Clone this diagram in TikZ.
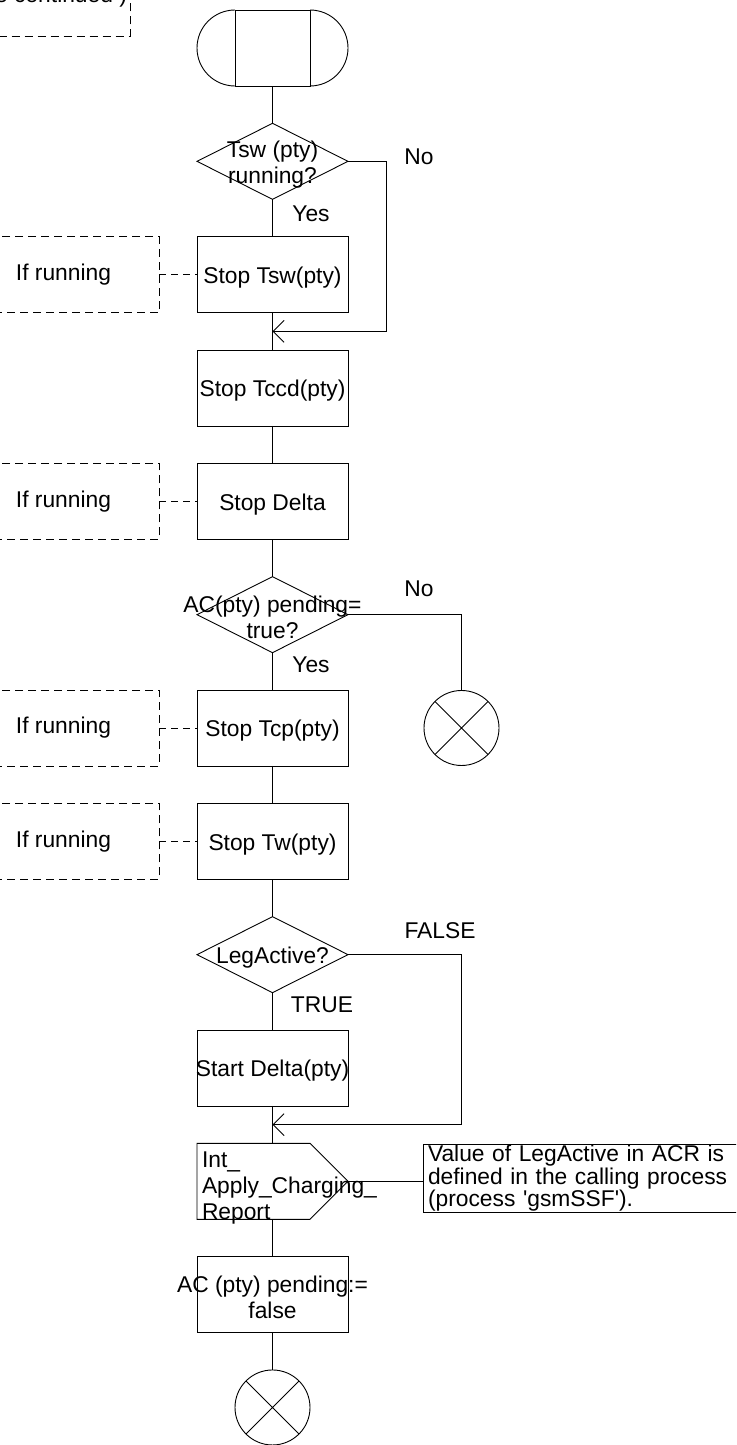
\documentclass[tikz,border=0pt]{standalone}
\usepackage{fontspec}
\setmainfont{Liberation Sans}[Ligatures=TeXOff]
\usepackage{tikz}
\usetikzlibrary{shapes.geometric, arrows.meta, positioning, calc}
\tikzstyle{startbox} = [rectangle, draw=black, minimum width=75pt, minimum height=76pt, inner sep=0pt]
\tikzstyle{task} = [rectangle, draw=black, minimum width=151pt, minimum height=76pt, inner sep=0pt, align=center]
\tikzstyle{decision} = [diamond, draw=black, minimum width=151pt, minimum height=76pt, inner sep=0pt, align=center]
\tikzstyle{ifnote} = [rectangle, draw=black, dash pattern=on 8pt off 5pt, minimum width=191pt, minimum height=76pt, inner sep=0pt]
\tikzstyle{contbox} = [rectangle, draw=black, dash pattern=on 8pt off 5pt, inner xsep=3pt, inner ysep=0pt, text depth=33pt]
\tikzstyle{sigout} = [rectangle, minimum width=151pt, minimum height=76pt, inner xsep=5pt, inner ysep=0pt, text width=141pt, align=left]
\tikzstyle{commentbox} = [rectangle, draw=black, text width=310pt, align=left, inner xsep=5pt, inner ysep=1pt, font=\fontsize{22.8pt}{20pt}\selectfont]
\tikzstyle{stopsym} = [circle, draw=black, minimum size=75pt, inner sep=0pt, path picture={\draw (path picture bounding box.north west) -- (path picture bounding box.south east) (path picture bounding box.north east) -- (path picture bounding box.south west);}]
\tikzstyle{lbl} = [inner sep=0pt]
\tikzstyle{arrow} = [-{Straight Barb[length=11pt, width=22pt]}]
\tikzstyle{dashline} = [dash pattern=on 7pt off 5pt]
\newcommand{\spill}[1]{\raisebox{-3pt}[\height][\depth]{\makebox[0pt]{#1}}}
\newcommand{\sigline}[1]{\raisebox{-7pt}[\height][\depth]{#1}}
\lineskiplimit=-30pt

\begin{document}
\begin{tikzpicture}[node distance=37.33pt, outer sep=0pt, font=\fontsize{22.8pt}{26pt}\selectfont, line width=0.9pt]
    \useasboundingbox (0,0) rectangle (736pt,-1445pt);
    \clip (0,0) rectangle (736pt,-1445pt);

    % note cut off at the top
    \node (contnote) [contbox, anchor=south east] at (130pt,-36pt) {(to be continued )};

    % Main column
    \node (start) [startbox] at (272.5pt,-48pt) {};
    \node (tswrun) [decision, below=of start] {\spill{Tsw (pty)}\\\spill{running?}};
    \node (stoptsw) [task, below=of tswrun] {\spill{Stop Tsw(pty)}};
    \node (stoptccd) [task, below=of stoptsw] {\spill{Stop Tccd(pty)}};
    \node (stopdelta) [task, below=of stoptccd] {\spill{Stop Delta}};
    \node (acpend) [decision, below=of stopdelta] {\spill{AC(pty) pending=}\\\spill{true?}};
    \node (stoptcp) [task, below=of acpend] {\spill{Stop Tcp(pty)}};
    \node (stoptw) [task, below=of stoptcp] {\spill{Stop Tw(pty)}};
    \node (legact) [decision, below=of stoptw] {\spill{LegActive?}};
    \node (startdelta) [task, below=of legact] {\spill{Start Delta(pty)}};
    \node (acrout) [sigout, below=of startdelta] {\sigline{Int\_}\\\sigline{Apply\_Charging\_}\\\sigline{Report}};
    \node (acfalse) [task, below=of acrout] {\spill{AC (pty) pending:=}\\\spill{false}};
    \node (end2) [stopsym, below=of acfalse] {};

    % Side nodes
    \node (ifrun1) [ifnote, left=38pt of stoptsw] {If running};
    \node (ifrun2) [ifnote, left=38pt of stopdelta] {If running};
    \node (ifrun3) [ifnote, left=38pt of stoptcp] {If running};
    \node (ifrun4) [ifnote, left=38pt of stoptw] {If running};
    \node (end1) [stopsym, right=76pt of stoptcp] {};
    \node (acrnote) [commentbox, anchor=north west] at ($(acrout.north east)+(75pt,-1pt)$) {Value of LegActive in ACR is\\defined in the calling process\\(process 'gsmSSF').};

    % Branch labels
    \node (yes1) [lbl] at ($(tswrun.south)+(38.5pt,-14pt)$) {Yes};
    \node (no1) [lbl] at ($(tswrun.east)+(71pt,5pt)$) {No};
    \node (no2) [lbl] at ($(acpend.east)+(71pt,26pt)$) {No};
    \node (yes2) [lbl] at ($(acpend.south)+(38.5pt,-12.5pt)$) {Yes};
    \node (false3) [lbl] at ($(legact.east)+(92pt,24pt)$) {FALSE};
    \node (true3) [lbl] at ($(legact.south)+(49.5pt,-12.5pt)$) {TRUE};

    % Symbol outlines
    \draw (start.north west) arc[start angle=90, end angle=270, radius=38pt];
    \draw (start.north east) arc[start angle=90, end angle=-90, radius=38pt];
    \draw (acrout.north west) -- ($(acrout.north east)+(-38pt,0)$) -- (acrout.east) -- ($(acrout.south east)+(-38pt,0)$) -- (acrout.south west) -- cycle;

    % Flow lines
    \coordinate (join1) at ($(stoptsw.south)!0.5!(stoptccd.north)$);
    \coordinate (join2) at ($(startdelta.south)!0.5!(acrout.north)$);
    \draw (start) -- (tswrun);
    \draw (tswrun) -- (stoptsw);
    \draw (stoptsw) -- (stoptccd);
    \draw (stoptccd) -- (stopdelta);
    \draw (stopdelta) -- (acpend);
    \draw (acpend) -- (stoptcp);
    \draw (stoptcp) -- (stoptw);
    \draw (stoptw) -- (legact);
    \draw (legact) -- (startdelta);
    \draw (startdelta) -- (acrout);
    \draw (acrout) -- (acfalse);
    \draw (acfalse) -- (end2);
    \draw [arrow] (tswrun.east) -- ++(38pt,0) |- (join1);
    \draw (acpend.east) -| (end1.north);
    \draw [arrow] (legact.east) -- (legact.east -| end1) |- (join2);
    \draw (acrout.east) -- (acrout.east -| acrnote.west);

    % Dashed links to notes
    \draw [dashline] (ifrun1) -- (stoptsw);
    \draw [dashline] (ifrun2) -- (stopdelta);
    \draw [dashline] (ifrun3) -- (stoptcp);
    \draw [dashline] (ifrun4) -- (stoptw);
\end{tikzpicture}
\end{document}
